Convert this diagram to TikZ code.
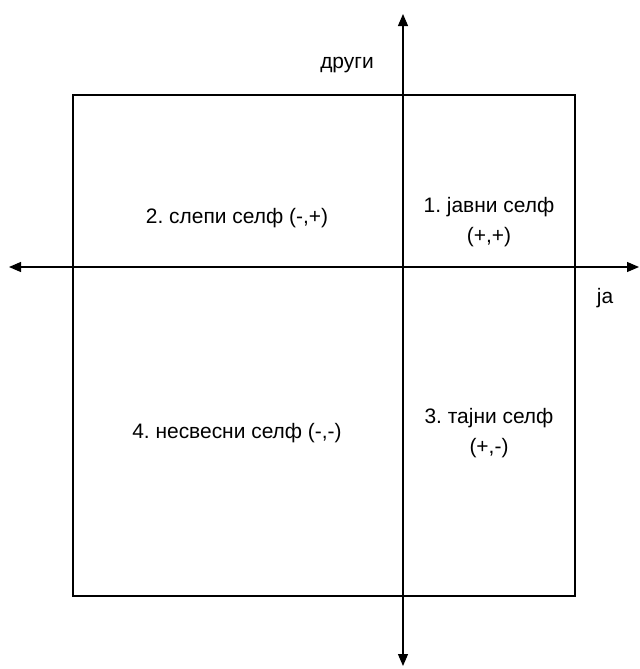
\documentclass[tikz,border=0pt]{standalone}
\usepackage{fontspec}
\setmainfont{Liberation Sans}
\usetikzlibrary{arrows.meta}
\frenchspacing
\begin{document}
\begin{tikzpicture}[x=0.75pt,y=-0.75pt,
  axis/.style={line width=0.9pt,-{Triangle[length=9pt,width=7.5pt]}},
  frame/.style={draw,line width=0.9pt},
  lbl/.style={font=\fontsize{15.7}{22}\selectfont,align=center,inner sep=0pt}]
  \useasboundingbox (0,0) rectangle (640,669);
  % outer square
  \draw[frame] (73,95) rectangle (575,596);
  % axes
  \coordinate (o) at (403,267);
  \coordinate (top) at (403,14);
  \coordinate (bot) at (403,666);
  \coordinate (left) at (9,267);
  \coordinate (right) at (639,267);
  \draw[axis] (o) -- (top);
  \draw[axis] (o) -- (bot);
  \draw[axis] (o) -- (left);
  \draw[axis] (o) -- (right);
  % axis names
  \node[lbl] (drugi) at (347,65) {други};
  \node[lbl] (ja) at (605,298) {ја};
  % quadrant texts
  \node[lbl] (q1) at (489,222) {1. јавни селф\\(+,+)};
  \node[lbl] (q2) at (237,218) {2. слепи селф (-,+)};
  \node[lbl] (q3) at (489,433) {3. тајни селф\\(+,-)};
  \node[lbl] (q4) at (237,433) {4. несвесни селф (-,-)};
\end{tikzpicture}
\end{document}
